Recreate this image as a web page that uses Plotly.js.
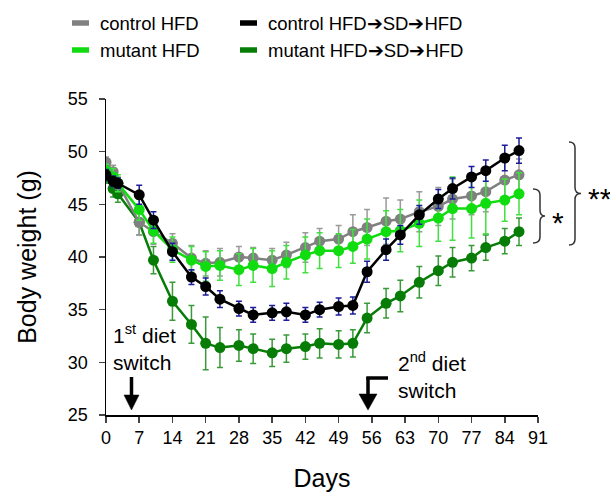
<!DOCTYPE html>
<html>
<head>
<meta charset="utf-8">
<script src="https://cdn.plot.ly/plotly-3.0.1.min.js"></script>
<style>html,body{margin:0;padding:0;background:#fff;}#chart{width:610px;height:496px;}</style>
</head>
<body>
<div id="chart"></div>
<script>
// ---- data ----
const days = [0,1.5,2.5,7,10,14,18,21,24,28,31,35,38,42,45,49,52,55,59,62,66,70,73,77,80,84,87];
const controlHFD    = [49.0,48.1,47.0,43.3,42.4,41.3,39.9,39.4,39.5,40.0,39.9,39.7,40.2,40.9,41.5,41.7,42.4,42.8,43.4,43.6,44.3,44.8,45.5,45.8,46.2,47.3,47.8];
const controlHFDerr = [0.5,0.6,0.6,1.2,1.2,0.9,1.2,1.2,1.3,1.0,1.0,1.1,1.2,1.4,1.2,1.3,1.6,1.7,2.2,1.8,1.9,1.8,1.9,1.8,1.9,1.8,1.5];
const mutantHFD     = [48.2,47.6,47.0,44.5,42.5,40.7,39.7,39.1,39.2,38.8,39.2,38.9,39.5,40.2,40.6,40.6,41.0,41.7,42.4,42.5,43.2,43.7,44.6,44.6,45.1,45.4,46.0];
const mutantHFDerr  = [0.6,0.8,0.8,1.0,1.2,1.2,1.3,1.4,1.4,1.5,1.6,1.7,1.6,1.7,1.7,1.6,1.6,1.9,2.0,2.0,2.2,2.2,3.0,2.8,2.9,2.0,2.0];
const controlSw     = [47.8,47.2,47.0,45.9,43.5,40.5,38.1,37.2,36.0,35.1,34.5,34.7,34.8,34.5,35.0,35.3,35.4,38.6,40.7,42.1,44.0,45.5,46.5,47.6,48.2,49.4,50.1];
const controlSwErr  = [0.5,0.5,0.5,0.9,0.8,0.8,0.7,0.8,0.8,0.7,0.7,0.7,0.8,0.7,0.7,0.8,0.8,1.0,1.0,0.9,0.9,0.9,1.0,1.0,1.0,1.2,1.2];
const mutantSw      = [47.6,46.5,46.0,43.3,39.7,35.8,33.6,31.8,31.4,31.6,31.3,30.9,31.3,31.5,31.8,31.7,31.8,34.2,35.6,36.3,37.6,38.7,39.5,39.9,40.9,41.5,42.4];
const mutantSwErr   = [0.6,0.8,0.8,1.2,1.3,1.8,1.8,2.5,1.9,1.5,1.4,1.3,1.3,1.2,1.4,1.3,1.3,1.4,1.4,1.5,1.5,1.4,1.4,1.2,1.2,1.2,1.3];
const seriesNames = ['control HFD','control HFD\u2794SD\u2794HFD','mutant HFD','mutant HFD\u2794SD\u2794HFD'];
const xTicks = [0,7,14,21,28,35,42,49,56,63,70,77,84,91];
const yTicks = [25,30,35,40,45,50,55];

const FONT = 'Liberation Sans, Arial, sans-serif';
function mk(y, err, color, ecolor){
  return {x: days, y: y, type:'scatter', mode:'lines+markers', showlegend:false,
    line:{color:color, width:2.5}, marker:{color:color, size:11},
    error_y:{type:'data', array:err, visible:true, color:ecolor, thickness:1.5, width:3}};
}
const traces = [
  mk(mutantSw, mutantSwErr, '#077d07', '#3a9a3a'),
  mk(controlHFD, controlHFDerr, '#808080', '#9a9a9a'),
  mk(mutantHFD, mutantHFDerr, '#10dc10', '#40e040'),
  mk(controlSw, controlSwErr, '#000000', '#1c1c99')
];

// pixel -> paper helpers (plot area: x 106..538, y 99..415)
const L=106, R=538, T=99, B=415;
const PX = px => (px-L)/(R-L);
const PY = py => (B-py)/(B-T);
function pt(px,py){return PX(px).toFixed(5)+','+PY(py).toFixed(5);}
function brace(xe,xs,xt,yt,yb){
  const ym=(yt+yb)/2, r=6;
  return 'M'+pt(xe,yt)+' Q'+pt(xs,yt)+' '+pt(xs,yt+r)+' L'+pt(xs,ym-r)+' Q'+pt(xs,ym)+' '+pt(xt,ym)+
         ' Q'+pt(xs,ym)+' '+pt(xs,ym+r)+' L'+pt(xs,yb-r)+' Q'+pt(xs,yb)+' '+pt(xe,yb);
}
function downArrow(x, yTail, yTip, halfW, headLen){
  return [
    {type:'line', xref:'paper', yref:'paper', x0:PX(x), x1:PX(x), y0:PY(yTail), y1:PY(yTip-headLen+1), line:{color:'#000', width:3.5}},
    {type:'path', xref:'paper', yref:'paper', path:'M'+pt(x-halfW,yTip-headLen)+' L'+pt(x+halfW,yTip-headLen)+' L'+pt(x,yTip)+' Z',
      fillcolor:'#000', line:{color:'#000', width:0.5}}
  ];
}

const legendColors = ['#808080','#000000','#10dc10','#077d07'];
const legendPos = [[72,23],[240,23],[72,50],[240,50]];
const shapes = [];
const annotations = [];
legendPos.forEach((p,i)=>{
  shapes.push({type:'line', xref:'paper', yref:'paper', x0:PX(p[0]), x1:PX(p[0]+17), y0:PY(p[1]), y1:PY(p[1]),
    line:{color:legendColors[i], width:5.5}});
  annotations.push({xref:'paper', yref:'paper', x:PX(p[0]+26), y:PY(p[1]), xanchor:'left', yanchor:'middle',
    text:seriesNames[i], showarrow:false, font:{family:FONT, size:18.5, color:'#000'}});
});
// braces
shapes.push({type:'path', xref:'paper', yref:'paper', path:brace(533,540,545,189,243), line:{color:'#333', width:1.5}});
shapes.push({type:'path', xref:'paper', yref:'paper', path:brace(569,575,581,142,245), line:{color:'#333', width:1.5}});
annotations.push({xref:'paper', yref:'paper', x:PX(550), y:PY(222), xanchor:'left', yanchor:'middle', text:'*', showarrow:false, font:{family:FONT, size:30, color:'#000'}});
annotations.push({xref:'paper', yref:'paper', x:PX(586), y:PY(198), xanchor:'left', yanchor:'middle', text:'**', showarrow:false, font:{family:FONT, size:30, color:'#000'}});
// diet switch notes
annotations.push({xref:'paper', yref:'paper', x:PX(111), y:PY(347), xanchor:'left', yanchor:'middle', align:'left',
  text:'1<sup>st</sup> diet<br>switch', showarrow:false, font:{family:FONT, size:21, color:'#000'}});
annotations.push({xref:'paper', yref:'paper', x:PX(396), y:PY(375), xanchor:'left', yanchor:'middle', align:'left',
  text:'2<sup>nd</sup> diet<br>switch', showarrow:false, font:{family:FONT, size:21, color:'#000'}});
// arrows
downArrow(131.5, 377, 410, 7.5, 15).forEach(s=>shapes.push(s));
downArrow(368, 377, 410, 9, 16).forEach(s=>shapes.push(s));
shapes.push({type:'line', xref:'paper', yref:'paper', x0:PX(366.3), x1:PX(388), y0:PY(378), y1:PY(378), line:{color:'#000', width:3.5}});

const layout = {
  width:610, height:496,
  margin:{l:L, r:610-R, t:T, b:496-B},
  paper_bgcolor:'#fff', plot_bgcolor:'#fff',
  font:{family:FONT, color:'#000'},
  showlegend:false,
  xaxis:{range:[0,91], tickvals:xTicks, ticktext:xTicks.map(String), ticks:'outside', ticklen:6, tickwidth:1.5,
    showline:true, linecolor:'#000', linewidth:1.5, showgrid:false, zeroline:false,
    tickfont:{family:FONT, size:18}, title:{text:'Days', font:{family:FONT, size:25}, standoff:22}},
  yaxis:{range:[25,55], tickvals:yTicks, ticktext:yTicks.map(String), ticks:'outside', ticklen:6, tickwidth:1.5,
    ticklabelstandoff:7,
    showline:true, linecolor:'#000', linewidth:1.5, showgrid:false, zeroline:false,
    tickfont:{family:FONT, size:18}, title:{text:'Body weight (g)', font:{family:FONT, size:25}, standoff:24}},
  shapes:shapes, annotations:annotations
};
Plotly.newPlot('chart', traces, layout, {displayModeBar:false, staticPlot:true});
</script>
</body>
</html>
